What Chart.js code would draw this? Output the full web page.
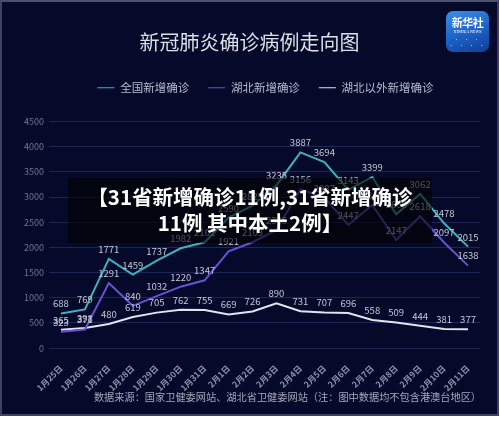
<!DOCTYPE html>
<html>
<head>
<meta charset="utf-8">
<script src="https://cdn.jsdelivr.net/npm/chart.js@4.4.1/dist/chart.umd.min.js"></script>
<style>
  html, body { margin: 0; padding: 0; background: #ffffff; }
  body { width: 500px; height: 421px; position: relative; overflow: hidden; font-family: "Noto Sans CJK SC", "Noto Sans", sans-serif; }
  #panel { position: absolute; left: 0; top: 0; width: 495px; height: 412px; background: #050a2a; border: 2px solid #3b4262; border-top-color: #4a5070; }
  #wrap { position: absolute; left: 0; top: 0; width: 497px; height: 400px; }
  #logo { position: absolute; left: 446px; top: 11px; width: 43px; height: 41px; border-radius: 7px;
    background: linear-gradient(160deg, #3a8fe8 0%, #1a5cc0 60%, #0f3f95 100%); color: #fff; text-align: center; }
  #logo .cn { font-size: 11px; font-weight: bold; line-height: 13px; margin-top: 5px; letter-spacing: -0.5px; }
  #logo .en { font-size: 4px; line-height: 5px; font-family: "Liberation Serif", serif; }
  #logo .net { font-size: 5px; line-height: 6px; color: #cfe6ff; letter-spacing: 2px; margin-top: 2px; }
  #banner { position: absolute; left: 68px; top: 178px; width: 364px; height: 65px; background: rgba(0, 0, 0, 0.6);
    color: #ffffff; font-weight: bold; font-size: 20.5px; line-height: 26px; text-align: center; padding-top: 5px; box-sizing: border-box; }
  #source { position: absolute; left: 0; width: 497px; top: 389px; text-align: center; padding-left: 78px; box-sizing: border-box;
    color: #a4a8bc; font-size: 10.2px; }
</style>
</head>
<body>
<div id="panel"></div>
<div id="wrap"><canvas id="chart"></canvas></div>
<div id="logo"><div class="cn">新华社</div><div class="en">XINHUA NEWS</div><div class="net">· · ·<br>· · · ·</div></div>
<div id="banner">【31省新增确诊11例,31省新增确诊<br>11例 其中本土2例】</div>
<div id="source">数据来源：国家卫健委网站、湖北省卫健委网站（注：图中数据均不包含港澳台地区）</div>
<script>
const days = ['1月25日', '1月26日', '1月27日', '1月28日', '1月29日', '1月30日', '1月31日', '2月1日', '2月2日',
  '2月3日', '2月4日', '2月5日', '2月6日', '2月7日', '2月8日', '2月9日', '2月10日', '2月11日'];
const nationNew = [688, 769, 1771, 1459, 1737, 1982, 2102, 2590, 2829, 3235, 3887, 3694, 3143, 3399, 2656, 3062, 2478, 2015];
const hubeiNew = [323, 371, 1291, 840, 1032, 1220, 1347, 1921, 2103, 2345, 3156, 2987, 2447, 2841, 2147, 2618, 2097, 1638];
const outsideNew = [365, 398, 480, 619, 705, 762, 755, 669, 726, 890, 731, 707, 696, 558, 509, 444, 381, 377];
const yTicks = [0, 500, 1000, 1500, 2000, 2500, 3000, 3500, 4000, 4500];

// draws the number above every point
const pointLabels = {
  id: 'pointLabels',
  afterDatasetsDraw(chart) {
    const ctx = chart.ctx;
    ctx.save();
    ctx.font = '9.5px "Noto Sans CJK SC", sans-serif';
    ctx.fillStyle = '#c4c8d6';
    ctx.textAlign = 'center';
    ctx.textBaseline = 'bottom';
    chart.data.datasets.forEach((ds, i) => {
      chart.getDatasetMeta(i).data.forEach((pt, j) => {
        ctx.fillText(String(ds.data[j]), pt.x, pt.y - 5);
      });
    });
    ctx.restore();
  }
};

// extra space under the legend, and legend centred over the plot
const legendGap = {
  id: 'legendGap',
  beforeInit(chart) {
    const fit = chart.legend.fit;
    chart.legend.fit = function () {
      fit.call(this);
      this.height += 18;
    };
  },
  afterLayout(chart) {
    chart.legend.left += 16;
    chart.legend.right += 16;
  }
};

new Chart(document.getElementById('chart'), {
  type: 'line',
  data: {
    labels: days,
    datasets: [
      { label: '全国新增确诊', data: nationNew, borderColor: '#3fb3bd', backgroundColor: '#3fb3bd' },
      { label: '湖北新增确诊', data: hubeiNew, borderColor: '#6b4fd6', backgroundColor: '#6b4fd6' },
      { label: '湖北以外新增确诊', data: outsideNew, borderColor: '#e2e2f0', backgroundColor: '#e2e2f0' }
    ]
  },
  options: {
    responsive: true,
    maintainAspectRatio: false,
    animation: false,
    elements: {
      line: { borderWidth: 2, tension: 0, fill: false },
      point: { radius: 0 }
    },
    layout: { padding: { left: 19, right: 17, top: 0, bottom: 0 } },
    plugins: {
      title: {
        display: true,
        text: '新冠肺炎确诊病例走向图',
        color: '#dcdfe9',
        font: { size: 20, family: '"Noto Sans CJK SC", sans-serif', weight: 'normal' },
        padding: { top: 30, bottom: 9 }
      },
      legend: {
        display: true,
        labels: {
          color: '#b6bacd',
          font: { size: 11.5, family: '"Noto Sans CJK SC", sans-serif' },
          usePointStyle: true,
          pointStyle: 'line',
          pointStyleWidth: 17,
          boxWidth: 17,
          padding: 19
        }
      },
      tooltip: { enabled: false }
    },
    scales: {
      x: {
        offset: true,
        grid: { display: false },
        border: { display: false },
        ticks: {
          color: '#8e94ae',
          font: { size: 8.5, family: '"Noto Sans CJK SC", sans-serif', weight: 'bold' },
          minRotation: 45,
          maxRotation: 45,
          autoSkip: false,
          padding: 7
        }
      },
      y: {
        min: 0,
        max: 4500,
        afterBuildTicks(axis) { axis.ticks = yTicks.map(v => ({ value: v })); },
        grid: { color: 'rgba(52, 62, 120, 0.55)', drawTicks: false, lineWidth: 1 },
        border: { display: false },
        ticks: {
          color: '#6f7593',
          font: { size: 9, family: '"Noto Sans CJK SC", sans-serif' },
          padding: 5,
          callback: v => String(v)
        }
      }
    }
  },
  plugins: [pointLabels, legendGap]
});
</script>
</body>
</html>
